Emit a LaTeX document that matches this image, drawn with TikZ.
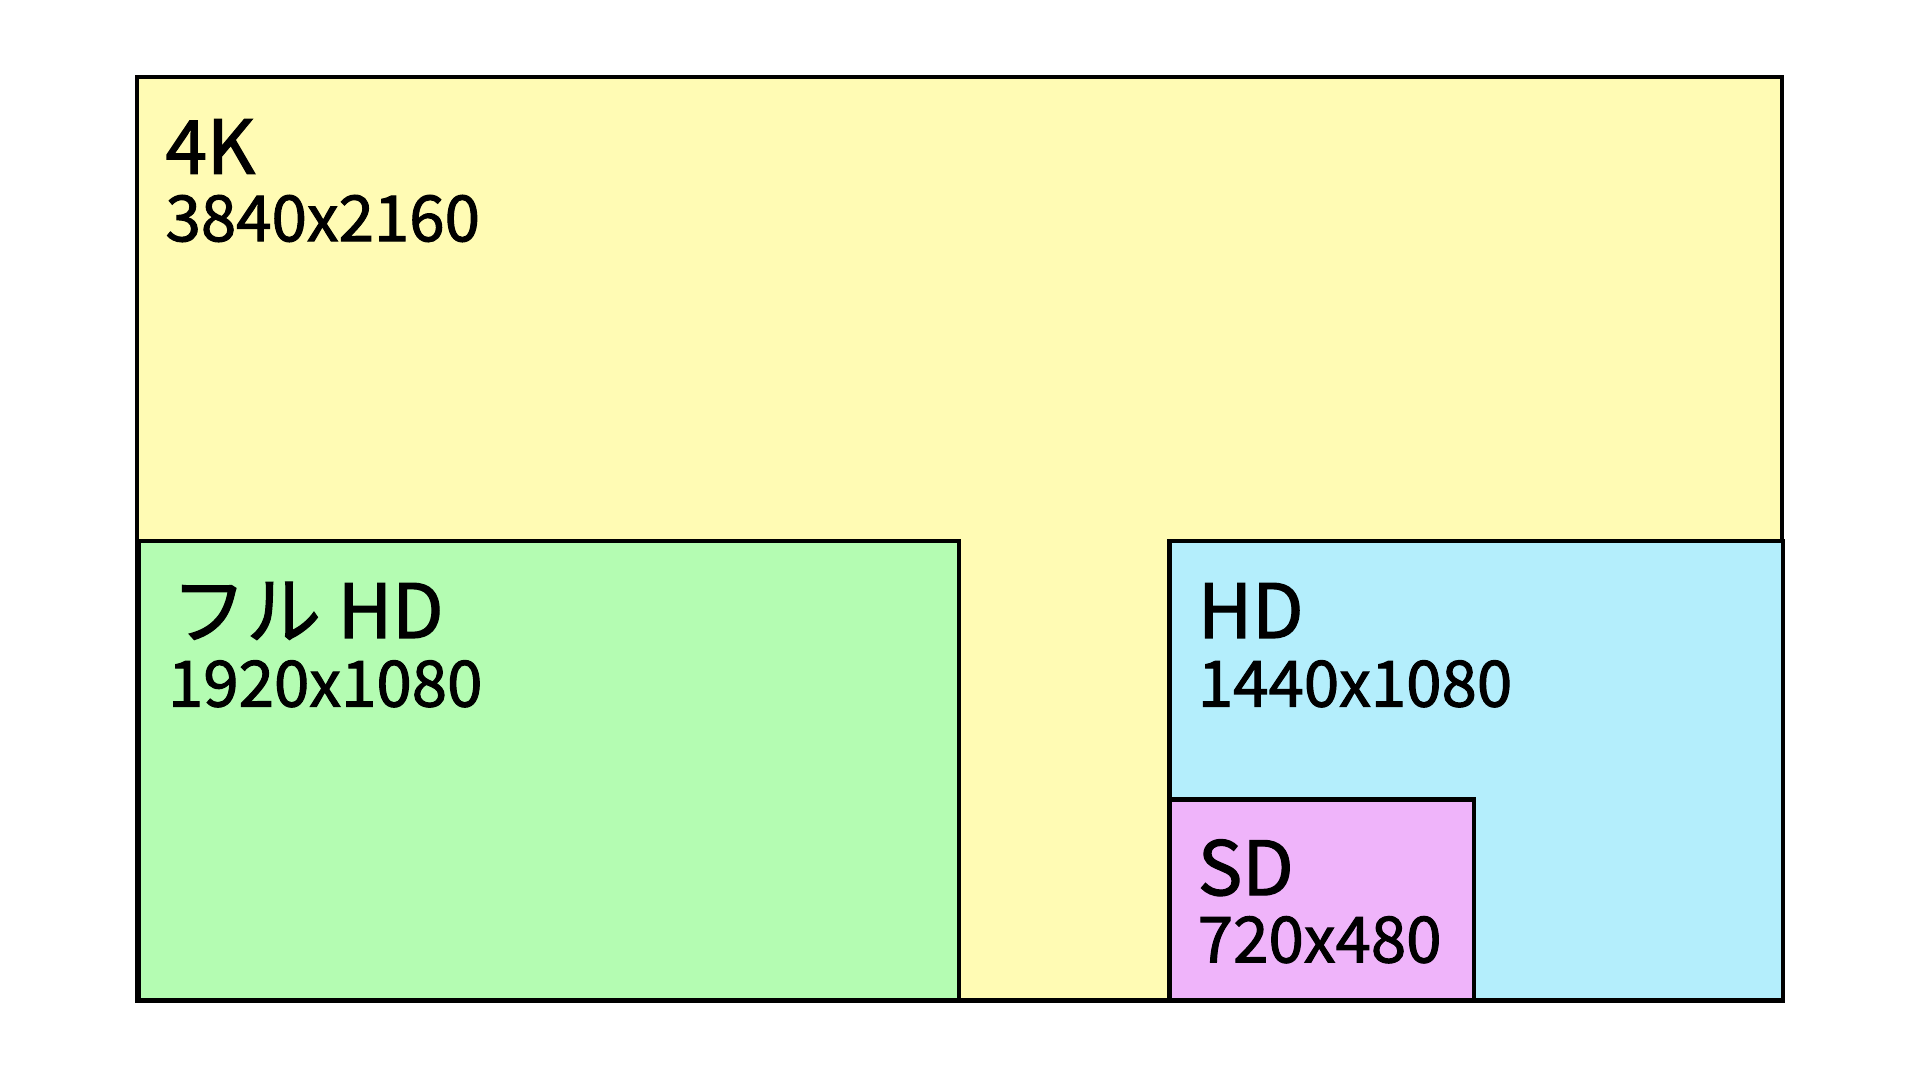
\documentclass[tikz,border=0pt]{standalone}
\usepackage{fontspec}
\setmainfont[UprightFeatures={FakeBold=1.6}]{Noto Sans CJK JP}
\definecolor{cyel}{HTML}{FFFBB4}
\definecolor{cgrn}{HTML}{B4FCB2}
\definecolor{cblu}{HTML}{B4EEFC}
\definecolor{cpnk}{HTML}{EFB4FA}
\begin{document}
\begin{tikzpicture}[x=1pt,y=-1pt,
  box/.style={draw=black,line width=3.5pt},
  ttl/.style={anchor=base west,inner sep=0pt,font=\fontsize{61}{61}\selectfont},
  res/.style={anchor=base west,inner sep=0pt,font=\fontsize{52}{52}\selectfont}]
\useasboundingbox[fill=white] (0,0) rectangle (1568,882);
\draw[box,fill=cyel] (112,63) rectangle (1455,817);
\draw[box,fill=cgrn] (113,442) rectangle (783,817);
\draw[box,fill=cblu] (955,442) rectangle (1456,817);
\draw[box,fill=cpnk] (955,653) rectangle (1204,817);
\node[ttl] (t4k) at (135,142) {4K};
\node[res] (r4k) at (135,197) {3840x2160};
\node[ttl] (tfhd) at (140,521) {フル HD};
\node[res] (rfhd) at (137,577) {1920x1080};
\node[ttl] (thd) at (978,521) {HD};
\node[res] (rhd) at (978,577) {1440x1080};
\node[ttl] (tsd) at (978,731) {SD};
\node[res] (rsd) at (978,786) {720x480};
\end{tikzpicture}
\end{document}
